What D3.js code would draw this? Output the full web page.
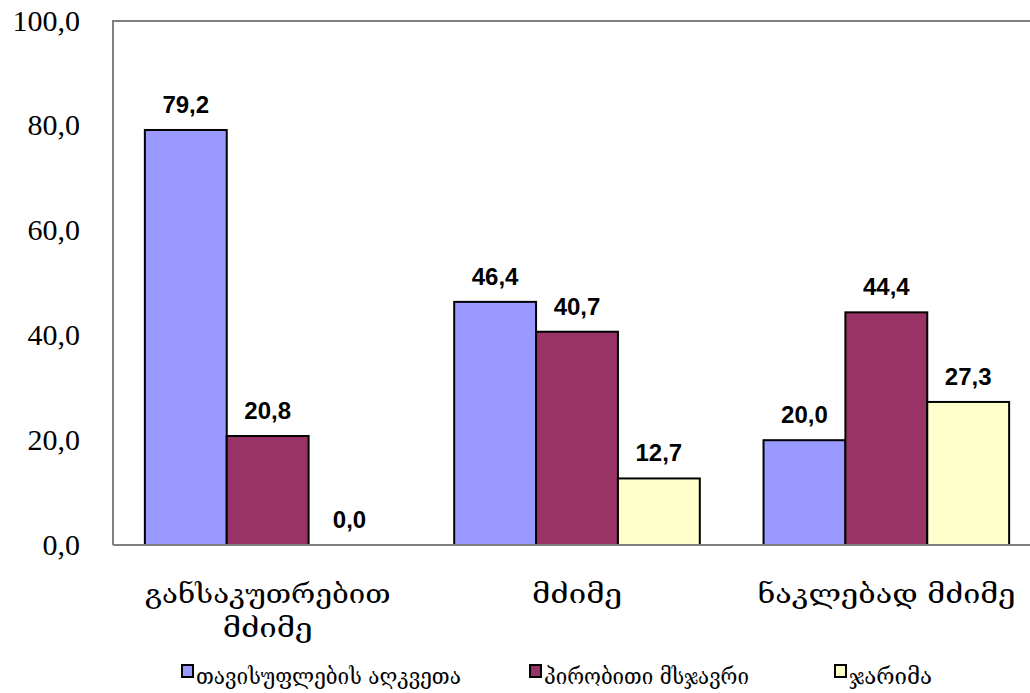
<!DOCTYPE html>
<html>
<head>
<meta charset="utf-8">
<script src="https://cdn.jsdelivr.net/npm/d3@7"></script>
<style>
  body { margin: 0; background: #fff; }
  svg { display: block; }
</style>
</head>
<body>
<div id="chart"></div>
<script>
// chart data
const categories = [["განსაკუთრებით", "მძიმე"], ["მძიმე"], ["ნაკლებად მძიმე"]];
const seriesNames = ["თავისუფლების აღკვეთა", "პირობითი მსჯავრი", "ჯარიმა"];
const seriesColors = ["#9999FF", "#993366", "#FFFFCC"];
const freedom = [79.2, 46.4, 20.0];
const probation = [20.8, 40.7, 44.4];
const fine = [0.0, 12.7, 27.3];
const yTicks = [0, 20, 40, 60, 80, 100];

const values = [freedom, probation, fine];
const fmt = (v) => v.toFixed(1).replace(".", ",");

const W = 1030, H = 693;
const margin = { top: 21, right: -11, bottom: 148, left: 113 };
const width = W - margin.left - margin.right;
const height = H - margin.top - margin.bottom;

const svg = d3.select("#chart").append("svg")
  .attr("width", W).attr("height", H);

const g = svg.append("g")
  .attr("transform", `translate(${margin.left},${margin.top})`);

const x0 = d3.scaleBand()
  .domain(d3.range(categories.length))
  .range([0, width])
  .paddingInner(0.206)
  .paddingOuter(0.103);

const x1 = d3.scaleBand()
  .domain(d3.range(seriesNames.length))
  .range([0, x0.bandwidth()]);

const y = d3.scaleLinear().domain([0, 100]).range([height, 0]);

// scale a text horizontally to a given width (the original Georgian face differs)
function fitWidth(sel, x, yPos, target, anchor) {
  const w = sel.node().getComputedTextLength();
  const sx = target / w;
  sel.attr("x", 0).attr("y", 0)
    .attr("text-anchor", anchor)
    .attr("transform", `translate(${x},${yPos}) scale(${sx},1)`);
}

// frame (left + top)
g.append("path")
  .attr("d", `M0,${height}V0H${width}`)
  .attr("fill", "none")
  .attr("stroke", "#808080")
  .attr("stroke-width", 2);

// y axis labels
const yAxis = d3.axisLeft(y).tickValues(yTicks).tickFormat(fmt).tickSize(0).tickPadding(33);
g.append("g").call(yAxis)
  .call((s) => s.select(".domain").remove())
  .selectAll("text")
  .attr("font-family", "'Liberation Serif', 'DejaVu Serif', serif")
  .attr("font-size", 30)
  .attr("dy", "0.3em")
  .attr("fill", "#000");

// bars
categories.forEach((c, ci) => {
  const grp = g.append("g").attr("transform", `translate(${x0(ci)},0)`);
  values.forEach((vals, si) => {
    const v = vals[ci];
    if (v > 0) {
      grp.append("rect")
        .attr("x", x1(si))
        .attr("y", y(v))
        .attr("width", x1.bandwidth())
        .attr("height", y(0) - y(v))
        .attr("fill", seriesColors[si])
        .attr("stroke", "#000")
        .attr("stroke-width", 2);
    }
    grp.append("text")
      .attr("x", x1(si) + x1.bandwidth() / 2)
      .attr("y", y(v) - 17)
      .attr("text-anchor", "middle")
      .attr("font-family", "'Liberation Sans', Arial, sans-serif")
      .attr("font-weight", "bold")
      .attr("font-size", 24)
      .attr("fill", "#000")
      .text(fmt(v));
  });
});

// baseline on top of bars
g.append("line")
  .attr("x1", 0).attr("x2", width)
  .attr("y1", height).attr("y2", height)
  .attr("stroke", "#808080").attr("stroke-width", 2);

// category labels
const labelWidths = [[246, 90], [90], [258]];
categories.forEach((lines, ci) => {
  lines.forEach((l, li) => {
    const t = g.append("text")
      .attr("font-family", "'DejaVu Serif', serif")
      .attr("font-size", 26)
      .attr("fill", "#000")
      .text(l);
    fitWidth(t, x0(ci) + x0.bandwidth() / 2, height + 58 + li * 34, labelWidths[ci][li], "middle");
  });
});

// legend
const legendX = [182, 530, 835];
const legendWidths = [265, 205, 83];
const legend = svg.append("g");
seriesNames.forEach((name, i) => {
  legend.append("rect")
    .attr("x", legendX[i]).attr("y", 665)
    .attr("width", 11).attr("height", 12)
    .attr("fill", seriesColors[i])
    .attr("stroke", "#000").attr("stroke-width", 2);
  const t = legend.append("text")
    .attr("font-family", "'DejaVu Serif', serif")
    .attr("font-size", 22)
    .attr("fill", "#000")
    .text(name);
  fitWidth(t, legendX[i] + 14, 684, legendWidths[i], "start");
});
</script>
</body>
</html>
